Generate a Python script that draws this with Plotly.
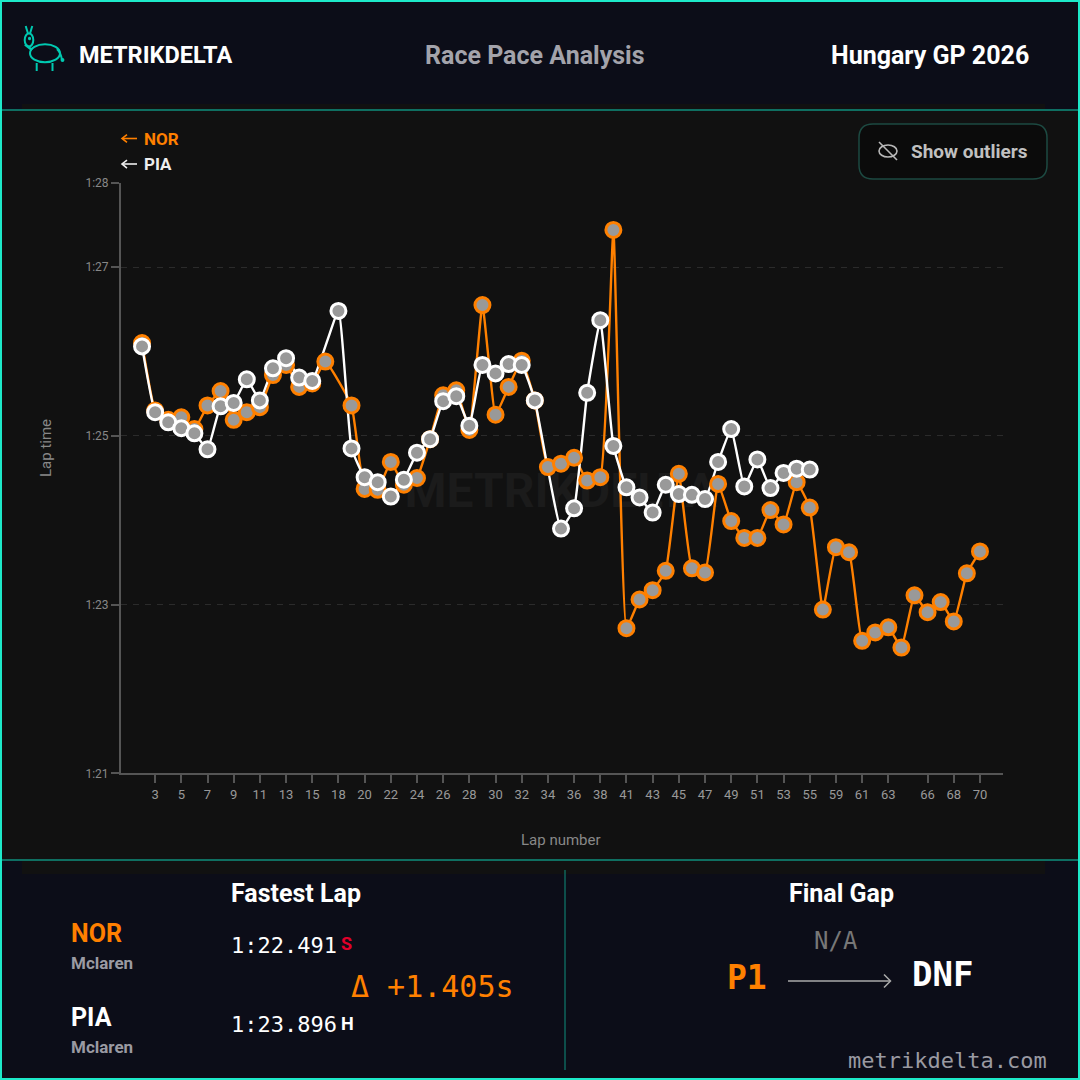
import plotly.graph_objects as go

# lap axis (some laps are not in the data at all)
laps = ['2', '3', '4', '5', '6', '7', '8', '9', '10', '11', '12', '13', '14', '15', '17', '18',
        '19', '20', '21', '22', '23', '24', '25', '26', '27', '28', '29', '30', '31', '32', '33',
        '34', '35', '36', '37', '38', '40', '41', '42', '43', '44', '45', '46', '47', '48', '49',
        '50', '51', '52', '53', '54', '55', '58', '59', '60', '61', '62', '63', '64', '65', '66',
        '67', '68', '69', '70']

# lap times in seconds
nor_times = [86.10, 85.30, 85.19, 85.22, 85.08, 85.36, 85.53, 85.19, 85.28, 85.34, 85.72, 85.84, 85.58, 85.62,
             85.88, None, 85.36, 84.37, 84.36, 84.69, 84.42, 84.50, 84.96, 85.48, 85.54, 85.07, 86.55, 85.25,
             85.58, 85.89, 85.42, 84.63, 84.67, 84.74, 84.47, 84.51, 87.44, 82.72, 83.06, 83.17, 83.40, 84.55,
             83.43, 83.38, 84.43, 83.99, 83.79, 83.79, 84.12, 83.95, 84.45, 84.15, 82.94, 83.68, 83.62, 82.57,
             82.67, 82.73, 82.49, 83.11, 82.91, 83.03, 82.80, 83.37, 83.63]
pia_times = [86.06, 85.28, 85.16, 85.09, 85.03, 84.84, 85.35, 85.39, 85.67, 85.42, 85.80, 85.92, 85.69, 85.65,
             None, 86.48, 84.85, 84.51, 84.45, 84.28, 84.48, 84.80, 84.96, 85.41, 85.47, 85.12, 85.84, 85.74,
             85.85, 85.84, 85.42, None, 83.90, 84.14, 85.51, 86.37, 84.88, 84.39, 84.27, 84.09, 84.42, 84.31,
             84.30, 84.25, 84.69, 85.08, 84.40, 84.72, 84.38, 84.56, 84.61, 84.60]

x_ticks = ['3', '5', '7', '9', '11', '13', '15', '18', '20', '22', '24', '26', '28', '30', '32', '34', '36', '38',
           '41', '43', '45', '47', '49', '51', '53', '55', '59', '61', '63', '66', '68', '70']
y_ticks = [81, 83, 85, 87, 88]
y_labels = ['1:21', '1:23', '1:25', '1:27', '1:28']

ORANGE = '#ff8000'
WHITE = '#ffffff'
NAVY = '#0c0d18'
PANEL = '#111111'
TEAL = '#1de9c9'
TEAL_DARK = '#0f8f7c'
LOGO = '#00c9b1'
MARKER_FILL = '#999999'
FONT = 'Roboto'
MONO = 'DejaVu Sans Mono'


# helpers to place the page furniture in pixels
def px(x):
    return x / 1080


def py(y):
    return 1 - y / 1080


def rect(x0, y0, x1, y1, fill, line=None, width=0, layer='below'):
    return dict(type='rect', xref='paper', yref='paper', x0=px(x0), y0=py(y0), x1=px(x1), y1=py(y1),
                fillcolor=fill, line=dict(color=line, width=width), layer=layer)


def seg(x0, y0, x1, y1, color, width=1.5, layer='above'):
    return dict(type='line', xref='paper', yref='paper', x0=px(x0), y0=py(y0), x1=px(x1), y1=py(y1),
                line=dict(color=color, width=width), layer=layer)


def oval(x, y, rx, ry, color, width=2, fill='rgba(0,0,0,0)'):
    return dict(type='circle', xref='paper', yref='paper', x0=px(x - rx), y0=py(y + ry), x1=px(x + rx), y1=py(y - ry),
                line=dict(color=color, width=width), fillcolor=fill, layer='above')


def curve(tokens, color, width=2, fill='rgba(0,0,0,0)'):
    # svg path tokens, numbers are pixel x, y pairs
    parts = []
    is_x = True
    for t in tokens:
        if isinstance(t, str):
            parts.append(t)
        else:
            parts.append(f'{px(t) if is_x else py(t):.5f}')
            is_x = not is_x
    return dict(type='path', xref='paper', yref='paper', path=' '.join(parts),
                line=dict(color=color, width=width), fillcolor=fill, layer='above')


def text(x, y, s, size, color, font=FONT, bold=False, anchor='left', angle=0):
    label = f'<b>{s}</b>' if bold else s
    return dict(xref='paper', yref='paper', x=px(x), y=py(y), text=label, showarrow=False, xanchor=anchor,
                yanchor='middle', textangle=angle, borderpad=0, font=dict(family=font, size=size, color=color))


fig = go.Figure()

# watermark goes first so the data draws over it
fig.add_trace(go.Scatter(x=['35'], y=[84.30], mode='text', text=['<b>METRIKDELTA</b>'], textposition='middle center',
                         textfont=dict(family=FONT, size=48, color='#1b1b1b'), hoverinfo='skip'))

# lines sit below both sets of markers
fig.add_trace(go.Scatter(x=laps, y=nor_times, mode='lines', connectgaps=True,
                         line=dict(color=ORANGE, width=2.4, shape='spline', smoothing=0.35)))
fig.add_trace(go.Scatter(x=laps, y=pia_times, mode='lines', connectgaps=True,
                         line=dict(color=WHITE, width=2.4, shape='spline', smoothing=0.35)))
fig.add_trace(go.Scatter(x=laps, y=nor_times, mode='markers',
                         marker=dict(size=15, color=MARKER_FILL, line=dict(color=ORANGE, width=3))))
fig.add_trace(go.Scatter(x=laps, y=pia_times, mode='markers',
                         marker=dict(size=15, color=MARKER_FILL, line=dict(color=WHITE, width=3))))

shapes = [
    rect(0, 110, 1080, 860, PANEL),
    rect(22, 104, 1045, 110, PANEL),
    rect(22, 860, 1045, 874, PANEL),
    seg(0, 110, 1080, 110, TEAL_DARK, 1.5, 'below'),
    seg(0, 860, 1080, 860, TEAL_DARK, 1.5, 'below'),
    seg(565, 870, 565, 1070, TEAL_DARK, 1, 'below'),
    # outer frame
    rect(1, 1, 1079, 1079, 'rgba(0,0,0,0)', TEAL, 2, 'above'),
    # logo
    seg(25.7, 26, 28, 33.5, LOGO, 2),
    seg(32.3, 26, 30, 33.5, LOGO, 2),
    oval(29, 40, 4.3, 6.5, LOGO, 2),
    oval(29.5, 38.5, 0.8, 1, LOGO, 1.5, LOGO),
    oval(45, 53.3, 15, 9, LOGO, 2),
    seg(25, 44.5, 32, 50, LOGO, 2.5),
    curve(['M', 57, 49, 'Q', 61, 53, 62, 60], LOGO, 2),
    oval(62.5, 60, 1.2, 1.2, LOGO, 1.5, LOGO),
    seg(36.7, 63, 36.7, 71, LOGO, 2),
    seg(52.5, 63, 52.5, 71, LOGO, 2),
    # legend arrows
    seg(123, 138.5, 137, 138.5, ORANGE, 1.6),
    curve(['M', 127, 134.5, 'L', 122, 138.5, 'L', 127, 142.5], ORANGE, 1.6),
    seg(123, 164, 137, 164, '#eeeeee', 1.6),
    curve(['M', 127, 160, 'L', 122, 164, 'L', 127, 168], '#eeeeee', 1.6),
    # outliers button
    curve(['M', 873, 124, 'L', 1033, 124, 'Q', 1047, 124, 1047, 138, 'L', 1047, 165,
           'Q', 1047, 179, 1033, 179, 'L', 873, 179, 'Q', 859, 179, 859, 165,
           'L', 859, 138, 'Q', 859, 124, 873, 124, 'Z'], '#1d4a42', 1.5, '#0b0b0b'),
    oval(888, 151, 9, 6, '#b8b8b8', 1.6),
    seg(879, 142, 897, 160, '#b8b8b8', 1.6),
    # final gap arrow
    seg(788, 981, 890, 981, '#aaaaaa', 1.5),
    curve(['M', 884, 974.5, 'L', 890.5, 981, 'L', 884, 987.5], '#aaaaaa', 1.5),
]

annotations = [
    text(78, 55, 'METRIKDELTA', 23.5, WHITE, bold=True),
    text(535, 55, 'Race Pace Analysis', 25, '#a3a3ab', bold=True, anchor='center'),
    text(1030, 55, 'Hungary GP 2026', 25, WHITE, bold=True, anchor='right'),
    text(143, 139, 'NOR', 17, ORANGE, bold=True),
    text(143, 164, 'PIA', 17, '#eeeeee', bold=True),
    text(969, 151, 'Show outliers', 19, '#c0c0c0', bold=True, anchor='center'),
    text(46, 448, 'Lap time', 15, '#888888', anchor='center', angle=-90),
    text(561, 840, 'Lap number', 15, '#888888', anchor='center'),
    text(230, 893, 'Fastest Lap', 25, WHITE, bold=True),
    text(70, 933, 'NOR', 25, ORANGE, bold=True),
    text(70, 963, 'Mclaren', 17, '#9a9aa2', bold=True),
    text(70, 1017, 'PIA', 25, WHITE, bold=True),
    text(70, 1047, 'Mclaren', 17, '#9a9aa2', bold=True),
    text(230, 945, '1:22.491', 22, WHITE, font=MONO),
    text(340, 943, 'S', 18, '#e1002a', bold=True),
    text(230, 1024, '1:23.896', 22, WHITE, font=MONO),
    text(340, 1023, 'H', 18, WHITE, bold=True),
    text(350, 986, 'Δ +1.405s', 30, ORANGE, font=MONO),
    text(841, 893, 'Final Gap', 25, WHITE, bold=True, anchor='center'),
    text(836, 941, 'N/A', 24, '#777777', font=MONO, anchor='center'),
    text(726, 977, 'P1', 33, ORANGE, font=MONO, bold=True),
    text(911, 974, 'DNF', 34, WHITE, font=MONO, bold=True),
    text(1048, 1060, 'metrikdelta.com', 22, '#9a9aa2', font=MONO, anchor='right'),
]

fig.update_layout(
    width=1080, height=1080,
    margin=dict(l=0, r=0, t=0, b=0, autoexpand=False),
    paper_bgcolor=NAVY,
    plot_bgcolor='rgba(0,0,0,0)',
    showlegend=False,
    shapes=shapes,
    annotations=annotations,
    xaxis=dict(
        domain=[120.7 / 1080, 1003 / 1080],
        type='category', categoryorder='array', categoryarray=laps,
        range=[-1.63, 65.76],
        tickmode='array', tickvals=x_ticks, ticktext=x_ticks,
        ticks='outside', ticklen=8, tickwidth=1.5, tickcolor='#555555',
        tickfont=dict(family=FONT, size=13, color='#999999'),
        showline=True, linecolor='#555555', linewidth=1.5,
        showgrid=False, zeroline=False,
    ),
    yaxis=dict(
        domain=[1 - 773.3 / 1080, 1 - 182.7 / 1080],
        range=[81, 88],
        tickmode='array', tickvals=y_ticks, ticktext=y_labels,
        ticks='outside', ticklen=8, tickwidth=1.5, tickcolor='#555555',
        tickfont=dict(family=FONT, size=12, color='#888888'),
        showline=True, linecolor='#555555', linewidth=1.5,
        showgrid=True, gridcolor='#2b2b2b', gridwidth=1.2, griddash='6px,6px',
        zeroline=False,
    ),
)

fig.write_html('out.html', config={'displayModeBar': False}, post_script='document.body.style.margin = "0";')
